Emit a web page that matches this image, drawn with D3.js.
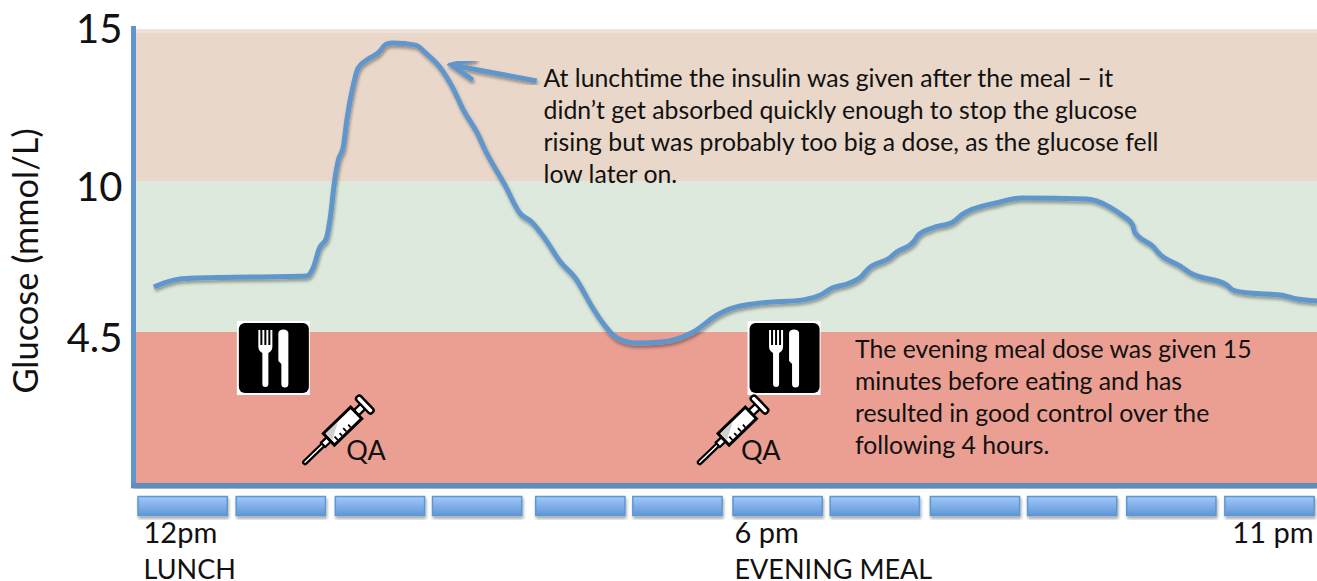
<!DOCTYPE html>
<html>
<head>
<meta charset="utf-8">
<script src="https://cdn.jsdelivr.net/npm/d3@7"></script>
<style>
  html, body { margin: 0; padding: 0; background: #fff; overflow: hidden; }
  svg { display: block; }
  text { font-family: Lato, "Open Sans", sans-serif; fill: #111; }
</style>
</head>
<body>
<svg id="chart" width="1317" height="581"></svg>
<script>
/* hours on a 24h clock, glucose in mmol/L */
const curveHours = [12.16, 12.29, 12.42, 12.59, 13.70, 13.77, 13.83, 13.90, 13.94, 13.98, 14.02, 14.07, 14.11, 14.16, 14.22, 14.32, 14.42, 14.51, 14.57, 14.80, 14.91, 15.05, 15.17, 15.28, 15.42, 15.50, 15.70, 15.85, 15.97, 16.10, 16.26, 16.41, 16.58, 16.68, 16.83, 17.03, 17.28, 17.60, 17.84, 17.97, 18.29, 18.71, 18.90, 19.00, 19.15, 19.30, 19.36, 19.58, 19.65, 19.82, 19.87, 20.01, 20.22, 20.32, 20.65, 20.91, 21.57, 21.80, 21.92, 22.03, 22.05, 22.24, 22.29, 22.51, 22.61, 22.98, 23.04, 23.21, 23.52, 23.69, 23.89];
const curveGlucose = [6.14, 6.32, 6.43, 6.47, 6.54, 6.87, 7.56, 7.92, 8.69, 9.93, 10.69, 11.12, 12.10, 12.99, 13.72, 14.01, 14.21, 14.51, 14.54, 14.47, 14.18, 13.72, 13.09, 12.34, 11.58, 11.02, 9.85, 8.83, 8.51, 7.92, 7.05, 6.47, 5.41, 4.86, 4.32, 4.17, 4.20, 4.50, 5.12, 5.34, 5.56, 5.67, 5.88, 6.10, 6.25, 6.54, 6.79, 7.20, 7.41, 7.78, 8.03, 8.29, 8.51, 8.80, 9.20, 9.38, 9.34, 9.05, 8.76, 8.40, 8.14, 7.60, 7.38, 6.90, 6.65, 6.21, 6.03, 5.92, 5.85, 5.70, 5.63];

const blockHours = [12, 12.99, 13.99, 14.97, 16.01, 16.99, 18, 18.98, 19.99, 20.97, 21.97, 22.96];
const blockLength = 0.9;

const bandEdges = [0, 4.5, 10, 15];
const bandColors = ["#EB9F92", "#DCE9DC", "#E9D7C9"];

const yTicks = [4.5, 10, 15];
const xTicks = [12, 18, 23];
const xTickLabels = ["12pm", "6 pm", "11 pm"];
const xSubLabels = ["LUNCH", "EVENING MEAL", ""];

const mealHours = [13.37, 18.52];
const doseHours = [13.99, 17.97];
const doseLabel = "QA";

const lunchNote = [
  "At lunchtime the insulin was given after the meal – it",
  "didn’t get absorbed quickly enough to stop the glucose",
  "rising but was probably too big a dose, as the glucose fell",
  "low later on."
];
const eveningNote = [
  "The evening meal dose was given 15",
  "minutes before eating and has",
  "resulted in good control over the",
  "following 4 hours."
];

const width = 1317;
const height = 581;
const lineBlue = "#6096CB";

const x = d3.scaleLinear().domain([12, 24]).range([138, 1328]);
// the value axis is not linear in the original: equal gaps for 4.5, 10, 15
const y = d3.scaleLinear().domain(bandEdges).range([483, 332, 181, 29]);

const svg = d3.select("#chart");
const defs = svg.append("defs");

const shadow = defs.append("filter").attr("id", "shadow")
  .attr("x", "-5%").attr("y", "-20%").attr("width", "110%").attr("height", "140%");
shadow.append("feDropShadow")
  .attr("dx", 1).attr("dy", 2.5).attr("stdDeviation", 1.6)
  .attr("flood-color", "#000").attr("flood-opacity", 0.35);

const blockFill = defs.append("linearGradient").attr("id", "blockFill")
  .attr("x1", 0).attr("x2", 0).attr("y1", 0).attr("y2", 1);
blockFill.append("stop").attr("offset", "0%").attr("stop-color", "#A3C8F8");
blockFill.append("stop").attr("offset", "100%").attr("stop-color", "#5E97D8");

/* background bands */
svg.append("g").selectAll("rect")
  .data(bandColors)
  .join("rect")
  .attr("x", x(12) - 3)
  .attr("width", width - x(12) + 3)
  .attr("y", (d, i) => y(bandEdges[i + 1]))
  .attr("height", (d, i) => y(bandEdges[i]) - y(bandEdges[i + 1]))
  .attr("fill", d => d);

// soft lighter edge along the top of the upper band
svg.append("rect")
  .attr("x", x(12) - 3)
  .attr("y", y(15))
  .attr("width", width - x(12) + 3)
  .attr("height", 4)
  .attr("fill", "#fff")
  .attr("opacity", 0.3);

/* axis lines and value labels */
const yAxis = d3.axisLeft(y).tickValues(yTicks).tickSize(0).tickPadding(11).tickFormat(d => d);
const yG = svg.append("g").attr("transform", `translate(${x(12) - 4.5},0)`).call(yAxis);
yG.select(".domain").attr("stroke", lineBlue).attr("stroke-width", 5).attr("d", `M0,${y(15) - 3}V${y(0) + 3}`);
yG.selectAll("text")
  .attr("font-size", 40)
  .attr("font-family", null)
  .attr("y", d => (d === 15 ? 1 : 7));

svg.append("text")
  .attr("transform", `translate(38,261) rotate(-90)`)
  .attr("text-anchor", "middle")
  .attr("font-size", 34.4)
  .text("Glucose (mmol/L)");

svg.append("rect")
  .attr("x", x(12) - 7)
  .attr("y", y(0))
  .attr("width", width - x(12) + 7)
  .attr("height", 5)
  .attr("fill", "#5B8FBF")
  .attr("filter", "url(#shadow)");

/* one block for each hour */
svg.append("g").selectAll("rect")
  .data(blockHours)
  .join("rect")
  .attr("x", d => x(d))
  .attr("y", 496.5)
  .attr("width", d => x(d + blockLength) - x(d))
  .attr("height", 19)
  .attr("fill", "url(#blockFill)")
  .attr("stroke", "#5E97D0")
  .attr("stroke-width", 1.5)
  .attr("filter", "url(#shadow)");

/* hour labels */
const xAxis = d3.axisBottom(x).tickValues(xTicks).tickSize(0).tickFormat((d, i) => xTickLabels[i]);
const xG = svg.append("g").attr("transform", "translate(0,516)").call(xAxis);
xG.select(".domain").remove();
xG.selectAll("text")
  .attr("font-family", null)
  .attr("font-size", 29)
  .attr("text-anchor", "start")
  .attr("y", 0)
  .attr("dy", 27)
  .attr("x", (d, i) => [5, 1, 3][i]);
xG.selectAll(".tick").append("text")
  .attr("font-family", null)
  .attr("font-size", 27)
  .attr("text-anchor", "start")
  .attr("x", (d, i) => [5, 1, 3][i])
  .attr("y", 63)
  .text((d, i) => xSubLabels[i]);

/* glucose trace */
const line = d3.line()
  .x(d => x(d[0]))
  .y(d => y(d[1]))
  .curve(d3.curveMonotoneX);

svg.append("path")
  .datum(d3.zip(curveHours, curveGlucose))
  .attr("d", line)
  .attr("fill", "none")
  .attr("stroke", lineBlue)
  .attr("stroke-width", 5)
  .attr("stroke-linejoin", "round")
  .attr("filter", "url(#shadow)");

/* arrow from the lunch note to the peak */
const arrowFrom = [16.02, 13.29];
const arrowTo = [15.16, 13.82];
const marker = defs.append("marker").attr("id", "openArrow")
  .attr("markerUnits", "userSpaceOnUse")
  .attr("viewBox", "-26 -14 30 28").attr("markerWidth", 30).attr("markerHeight", 28)
  .attr("refX", 0).attr("refY", 0).attr("orient", "auto");
marker.append("path")
  .attr("d", "M-22,-10L0,0L-22,10")
  .attr("fill", "none").attr("stroke", lineBlue).attr("stroke-width", 5)
  .attr("stroke-linecap", "round");
svg.append("line")
  .attr("x1", x(arrowFrom[0])).attr("y1", y(arrowFrom[1]))
  .attr("x2", x(arrowTo[0])).attr("y2", y(arrowTo[1]))
  .attr("stroke", lineBlue).attr("stroke-width", 5)
  .attr("marker-end", "url(#openArrow)")
  .attr("filter", "url(#shadow)");

/* notes */
function drawNote(lines, hour, value) {
  svg.append("g").selectAll("text")
    .data(lines)
    .join("text")
    .attr("x", x(hour))
    .attr("y", (d, i) => y(value) + i * 32)
    .attr("font-size", 24.8)
    .text(d => d);
}
drawNote(lunchNote, 16.09, 13.09);
drawNote(eveningNote, 19.23, 3.73);

/* meal icons, drawn around their centre */
const meals = svg.append("g").selectAll("g")
  .data(mealHours)
  .join("g")
  .attr("transform", d => `translate(${x(d)},358)`);
meals.append("rect").attr("x", -37).attr("y", -37).attr("width", 73).attr("height", 74).attr("fill", "#fff");
meals.append("rect").attr("x", -35).attr("y", -35).attr("width", 70).attr("height", 70).attr("rx", 6).attr("fill", "#000");
meals.append("path")
  .attr("fill", "#fff")
  .attr("d", "M-15.5,-28h2v15h2v-15h2v15h2v-15h2v15h2v-15h2v17c0,3 -2,5 -4,6v31a3,3 0 0 1 -6,0v-31c-2,-1 -4,-3 -4,-6z"
    + "M4.5,-25a5,3.5 0 0 1 10,0v51a3.5,3.5 0 0 1 -7,0v-20l-3,-3z");

/* insulin doses: syringe drawn lying flat, then turned */
const doses = svg.append("g").selectAll("g")
  .data(doseHours)
  .join("g")
  .attr("transform", d => `translate(${x(d)},433)`);
const syringe = doses.append("g").attr("transform", "rotate(-44)");
syringe.append("rect").attr("x", -44).attr("y", -1.8).attr("width", 36).attr("height", 3.6).attr("rx", 1.8)
  .attr("fill", "#fff").attr("stroke", "#000").attr("stroke-width", 2.2);
syringe.append("rect").attr("x", -17).attr("y", -3).attr("width", 8).attr("height", 6)
  .attr("fill", "#fff").attr("stroke", "#000").attr("stroke-width", 2.2);
syringe.append("rect").attr("x", 29).attr("y", -3.5).attr("width", 10).attr("height", 7)
  .attr("fill", "#fff").attr("stroke", "#000").attr("stroke-width", 2.4);
syringe.append("rect").attr("x", 38).attr("y", -11).attr("width", 6).attr("height", 22).attr("rx", 2.5)
  .attr("fill", "#fff").attr("stroke", "#000").attr("stroke-width", 2.4);
syringe.append("rect").attr("x", -9).attr("y", -8).attr("width", 38).attr("height", 16)
  .attr("fill", "#fff").attr("stroke", "#000").attr("stroke-width", 3);
syringe.append("path").attr("d", "M-7,-6.5H10L-7,3Z").attr("fill", "#aaa").attr("opacity", 0.55);
syringe.append("path")
  .attr("d", "M-3,6.5V2M3,6.5V3M9,6.5V2M15,6.5V3")
  .attr("stroke", "#000").attr("stroke-width", 1.8).attr("fill", "none");
doses.append("text")
  .attr("x", 11)
  .attr("y", 27)
  .attr("font-size", 27)
  .text(doseLabel);
</script>
</body>
</html>
